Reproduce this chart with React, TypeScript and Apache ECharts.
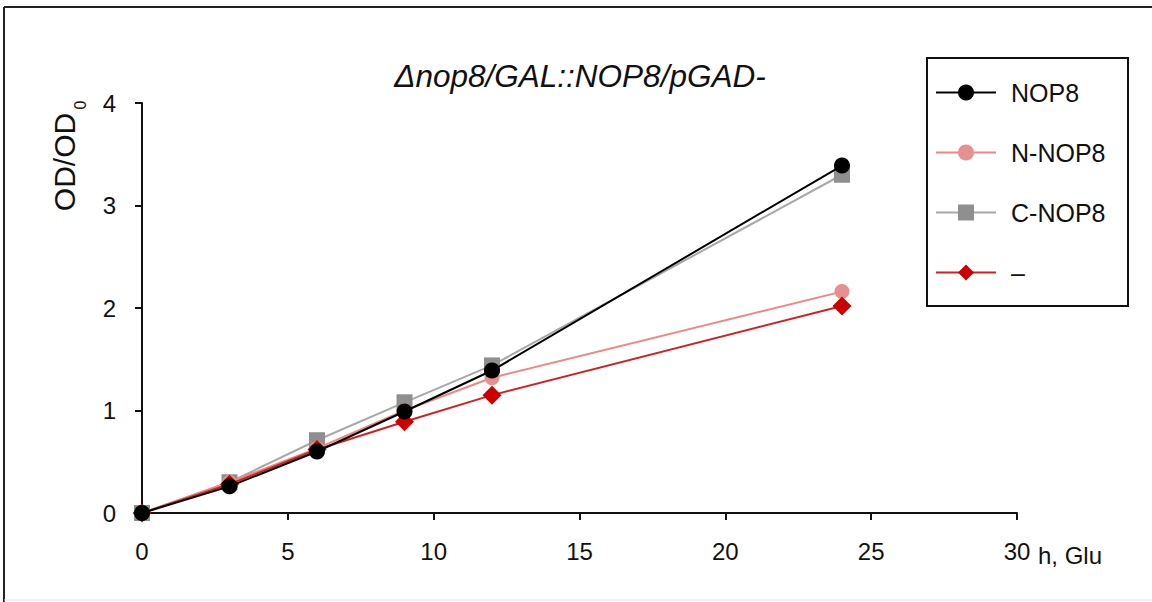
import React, { useEffect, useRef } from "react";
import * as echarts from "echarts";

const hours = [0, 3, 6, 9, 12, 24];
const nop8 = [0, 0.26, 0.6, 0.99, 1.39, 3.39];
const nNop8 = [0, 0.3, 0.63, 1.0, 1.32, 2.16];
const cNop8 = [0, 0.3, 0.71, 1.08, 1.44, 3.3];
const empty = [0, 0.28, 0.62, 0.89, 1.15, 2.02];
const seriesNames = ["NOP8", "N-NOP8", "C-NOP8", "\u2013"];
const titleText = "\u0394nop8/GAL::NOP8/pGAD-";
const yName = "OD/OD";
const ySub = "0";
const xUnit = "h, Glu";

const FONT = "Liberation Sans, Arial, sans-serif";

const pairs = (ys: number[]) => hours.map((h, i) => [h, ys[i]]);

export default function App() {
  const ref = useRef<HTMLDivElement>(null);
  useEffect(() => {
    if (!ref.current) return;
    const chart = echarts.init(ref.current, null, { renderer: "svg" });
    chart.setOption({
      animation: false,
      backgroundColor: "#ffffff",
      textStyle: { fontFamily: FONT },
      grid: { left: 142, right: 135, top: 103, bottom: 89 },
      xAxis: {
        type: "value",
        min: 0,
        max: 30,
        interval: 5,
        splitLine: { show: false },
        axisLine: { show: true, lineStyle: { color: "#111", width: 2 } },
        axisTick: { show: true, length: 7, lineStyle: { color: "#111", width: 2 } },
        axisLabel: { fontSize: 24, color: "#111", margin: 26, fontFamily: FONT },
      },
      yAxis: {
        type: "value",
        min: 0,
        max: 4,
        interval: 1,
        splitLine: { show: false },
        axisLine: { show: true, lineStyle: { color: "#111", width: 2 } },
        axisTick: { show: true, length: 7, lineStyle: { color: "#111", width: 2 } },
        axisLabel: { fontSize: 24, color: "#111", margin: 26, fontFamily: FONT },
      },
      legend: {
        orient: "vertical",
        left: 935,
        top: 79,
        padding: 0,
        itemWidth: 60,
        itemHeight: 20,
        itemGap: 33,
        data: seriesNames,
        textStyle: { fontSize: 25, color: "#111", lineHeight: 27, padding: [0, 0, 0, 10], fontFamily: FONT },
      },
      graphic: [
        { type: "line", shape: { x1: 4, y1: 7, x2: 1160, y2: 7 }, style: { stroke: "#222", lineWidth: 2 } },
        { type: "line", shape: { x1: 4, y1: 7, x2: 4, y2: 602 }, style: { stroke: "#222", lineWidth: 2 } },
        { type: "line", shape: { x1: 4, y1: 600, x2: 1160, y2: 600 }, style: { stroke: "#e2e2e2", lineWidth: 1 } },
        { type: "rect", shape: { x: 927, y: 58, width: 201, height: 248 }, style: { fill: "none", stroke: "#111", lineWidth: 2 }, z: 10 },
        {
          type: "text",
          x: 580,
          y: 76,
          style: { text: titleText, fontSize: 31.5, fontStyle: "italic", fontFamily: FONT, fill: "#111", align: "center", verticalAlign: "middle" },
        },
        {
          type: "text",
          x: 64,
          y: 162,
          rotation: Math.PI / 2,
          style: { text: yName, fontSize: 30, fontFamily: FONT, fill: "#111", align: "center", verticalAlign: "middle" },
        },
        {
          type: "text",
          x: 80,
          y: 105,
          rotation: Math.PI / 2,
          style: { text: ySub, fontSize: 16, fontFamily: FONT, fill: "#111", align: "center", verticalAlign: "middle" },
        },
        {
          type: "text",
          x: 1038,
          y: 555,
          style: { text: xUnit, fontSize: 24, fontFamily: FONT, fill: "#111", align: "left", verticalAlign: "middle" },
        },
      ],
      series: [
        {
          name: seriesNames[2],
          type: "line",
          data: pairs(cNop8),
          symbol: "rect",
          symbolSize: 16,
          lineStyle: { color: "#a8a8a8", width: 2 },
          itemStyle: { color: "#8f8f8f" },
          z: 2,
        },
        {
          name: seriesNames[1],
          type: "line",
          data: pairs(nNop8),
          symbol: "circle",
          symbolSize: 15,
          lineStyle: { color: "#f08686", width: 2 },
          itemStyle: { color: "#e8908f" },
          z: 3,
        },
        {
          name: seriesNames[3],
          type: "line",
          data: pairs(empty),
          symbol: "diamond",
          symbolSize: 19,
          lineStyle: { color: "#d42020", width: 2 },
          itemStyle: { color: "#cc0000" },
          z: 4,
        },
        {
          name: seriesNames[0],
          type: "line",
          data: pairs(nop8),
          symbol: "circle",
          symbolSize: 16,
          lineStyle: { color: "#000000", width: 2 },
          itemStyle: { color: "#000000" },
          z: 5,
        },
      ],
    });
    return () => chart.dispose();
  }, []);
  return <div ref={ref} style={{ position: "fixed", left: 0, top: 0, width: 1152, height: 602 }} />;
}
